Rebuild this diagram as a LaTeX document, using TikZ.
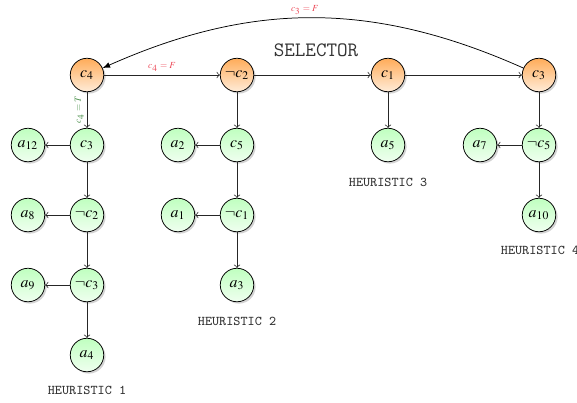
\documentclass[tikz,border=0pt]{standalone}
\usepackage{mathptmx}
\usetikzlibrary{shadows}

\definecolor{condred}{RGB}{235,70,85}
\definecolor{condgreen}{RGB}{70,140,70}

\tikzset{
    cond/.style={circle,draw=black,thin,minimum size=18pt,inner sep=0pt,
        font=\fontsize{8.5}{10}\selectfont,
        top color=orange!65,bottom color=orange!15,
        drop shadow={shadow xshift=1pt,shadow yshift=-1pt,opacity=.35}},
    leaf/.style={circle,draw=black,thin,minimum size=18pt,inner sep=0pt,
        font=\fontsize{8.5}{10}\selectfont,
        top color=green!25,bottom color=green!6,
        drop shadow={shadow xshift=1pt,shadow yshift=-1pt,opacity=.35}},
    link/.style={->,draw=black!85,thin},
    tag/.style={font=\fontfamily{lmtt}\fontsize{7.2}{9}\selectfont,text=black!80},
}

\begin{document}
\begin{tikzpicture}[x=0.5376pt,y=-0.5376pt]
    \useasboundingbox (0,0) rectangle (577,402);

    % selector row
    \node[cond] (C4) at (87,75) {$c_4$};
    \node[cond] (NC2) at (237,75) {$\neg c_2$};
    \node[cond] (C1) at (388,75) {$c_1$};
    \node[cond] (C3) at (539,75) {$c_3$};
    \node[font=\fontfamily{lmtt}\fontsize{11}{13}\selectfont,text=black!80] (SEL) at (316,50) {SELECTOR};

    % heuristic 1
    \node[leaf] (H1C3) at (87,145) {$c_3$};
    \node[leaf] (H1NC2) at (87,215) {$\neg c_2$};
    \node[leaf] (H1NC3) at (87,285) {$\neg c_3$};
    \node[leaf] (A4) at (87,355) {$a_4$};
    \node[leaf] (A12) at (28,145) {$a_{12}$};
    \node[leaf] (A8) at (28,215) {$a_8$};
    \node[leaf] (A9) at (28,285) {$a_9$};
    \node[tag] (T1) at (87,390) {HEURISTIC 1};

    % heuristic 2
    \node[leaf] (H2C5) at (237,145) {$c_5$};
    \node[leaf] (H2NC1) at (237,215) {$\neg c_1$};
    \node[leaf] (A3) at (237,285) {$a_3$};
    \node[leaf] (A2) at (178,145) {$a_2$};
    \node[leaf] (A1) at (178,215) {$a_1$};
    \node[tag] (T2) at (237,321) {HEURISTIC 2};

    % heuristic 3
    \node[leaf] (A5) at (388,145) {$a_5$};
    \node[tag] (T3) at (388,182) {HEURISTIC 3};

    % heuristic 4
    \node[leaf] (H4NC5) at (539,145) {$\neg c_5$};
    \node[leaf] (A10) at (539,215) {$a_{10}$};
    \node[leaf] (A7) at (480,145) {$a_7$};
    \node[tag] (T4) at (540,250) {HEURISTIC 4};

    % selector links
    \draw[link] (C4) -- node[above,font=\tiny,text=condred,inner sep=1.5pt] {$c_4=F$} (NC2);
    \draw[link] (NC2) -- (C1);
    \draw[link] (C1) -- (C3);
    \draw[-latex,draw=black,thin] (C3) to[bend right=24]
        node[above,font=\tiny,text=condred,inner sep=1.5pt,pos=.52] {$c_3=F$} (C4);
    \draw[link] (C4) -- node[font=\tiny,text=condgreen,rotate=90,anchor=south,inner sep=1.5pt] {$c_4=T$} (H1C3);
    \draw[link] (NC2) -- (H2C5);
    \draw[link] (C1) -- (A5);
    \draw[link] (C3) -- (H4NC5);

    % heuristic links
    \draw[link] (H1C3) -- (H1NC2);
    \draw[link] (H1NC2) -- (H1NC3);
    \draw[link] (H1NC3) -- (A4);
    \draw[link] (H1C3) -- (A12);
    \draw[link] (H1NC2) -- (A8);
    \draw[link] (H1NC3) -- (A9);
    \draw[link] (H2C5) -- (H2NC1);
    \draw[link] (H2NC1) -- (A3);
    \draw[link] (H2C5) -- (A2);
    \draw[link] (H2NC1) -- (A1);
    \draw[link] (H4NC5) -- (A10);
    \draw[link] (H4NC5) -- (A7);
\end{tikzpicture}
\end{document}
